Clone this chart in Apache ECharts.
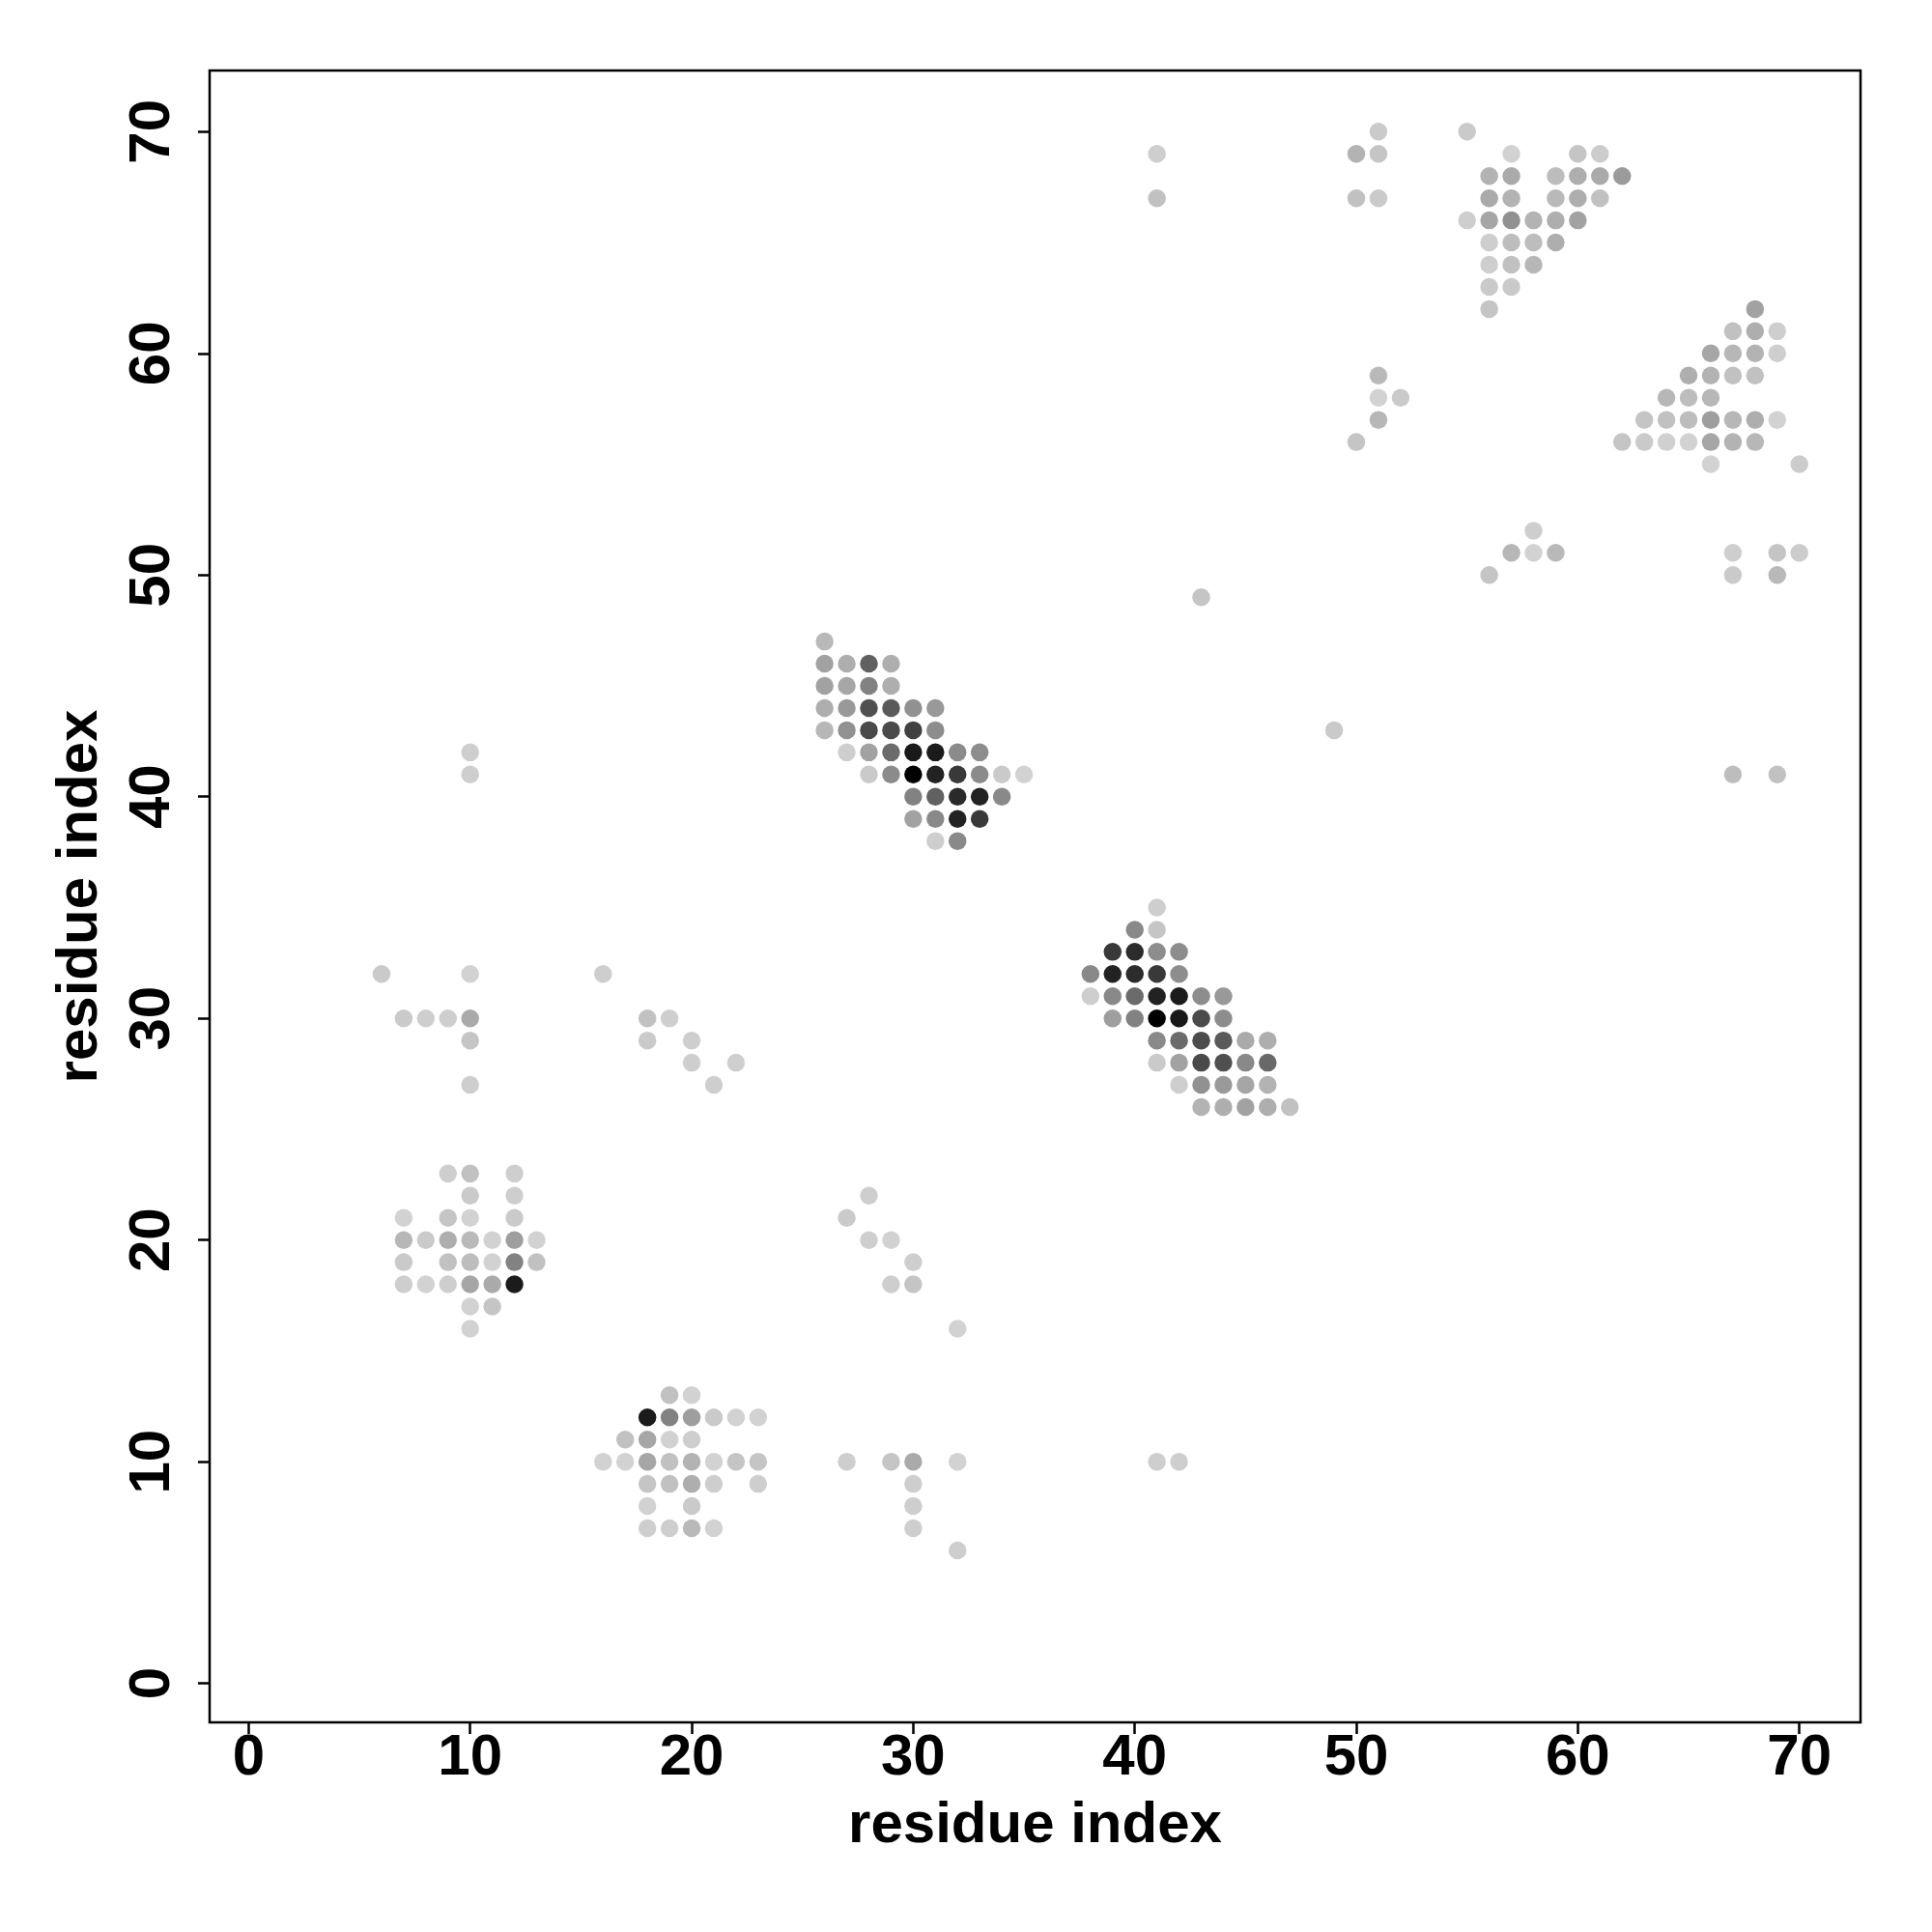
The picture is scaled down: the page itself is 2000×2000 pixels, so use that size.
<!DOCTYPE html>
<html>
<head>
<meta charset="utf-8">
<script src="https://cdn.jsdelivr.net/npm/echarts@6/dist/echarts.min.js"></script>
<style>html,body{margin:0;padding:0;background:#fff}#c{width:2000px;height:2000px}</style>
</head>
<body>
<div id="c"></div>
<script>
// Contact map: residue i (x), residue j (y), contact strength (0 = light grey, 1 = black)
const resX = [
51,55, 50,51,57,60,61, 56,57,59,60,61,62, 50,51,56,57,59,60,61, 55,56,57,58,59,60, 56,57,58,59, 56,57,58, 56,57, 56,
68, 67,68,69, 66,67,68,69, 51,65,66,67,68, 51,52,64,65,66, 51,63,64,65,66,67,68,69, 50,62,63,64,65,66,67,68, 66,70,
58, 57,58,59,67,69,70, 56,67,69, 41,41, 43,49, 67,69,
26, 26,27,28,29, 26,27,28,29, 26,27,28,29,30,31, 26,27,28,29,30,31, 27,28,29,30,31,32,33, 28,29,30,31,32,33,34,35,
30,31,32,33,34, 30,31,32,33, 31,32, 10,10,
41, 40,41, 39,40,41,42, 38,39,40,41,42, 38,39,40,41,42,43,44, 39,40,41,42,43,44, 41,42,43,44,45,46, 41,42,43,44,45,46,
42,43,44,45,46, 43,44,45,46,47,
6,10,16, 7,8,9,10,18,19, 10,18,20, 20,22, 10,21,
9,10,12, 10,12, 7,9,10,12, 7,8,9,10,11,12,13, 7,9,10,11,12,13, 7,8,9,10,11,12, 10,11, 10,
28,27,28,29,30,29,30,32,
19,20, 18,19,20,21,22,23, 17,18,19,20, 16,17,18,19,20,21,22,23, 18,19,20,21,23, 18,20, 18,19,20,21,
27,29,30,32, 30,30,30, 32, 41,42
];
const resY = [
70,70, 69,69,69,69,69, 68,68,68,68,68,68, 67,67,67,67,67,67,67, 66,66,66,66,66,66, 65,65,65,65, 64,64,64, 63,63, 62,
62, 61,61,61, 60,60,60,60, 59,59,59,59,59, 58,58,58,58,58, 57,57,57,57,57,57,57,57, 56,56,56,56,56,56,56,56, 55,55,
52, 51,51,51,51,51,51, 50,50,50, 69,67, 49,43, 41,41,
47, 46,46,46,46, 45,45,45,45, 44,44,44,44,44,44, 43,43,43,43,43,43, 42,42,42,42,42,42,42, 41,41,41,41,41,41,41,41,
40,40,40,40,40, 39,39,39,39, 38,38, 42,41,
35, 34,34, 33,33,33,33, 32,32,32,32,32, 31,31,31,31,31,31,31, 30,30,30,30,30,30, 29,29,29,29,29,29, 28,28,28,28,28,28,
27,27,27,27,27, 26,26,26,26,26,
32,32,32, 30,30,30,30,30,30, 29,29,29, 28,28, 27,27,
23,23,23, 22,22, 21,21,21,21, 20,20,20,20,20,20,20, 19,19,19,19,19,19, 18,18,18,18,18,18, 17,17, 16,
22,21,20,20,19,18,18,16,
13,13, 12,12,12,12,12,12, 11,11,11,11, 10,10,10,10,10,10,10,10, 9,9,9,9,9, 8,8, 7,7,7,7,
10,10,10,10, 9,8,7, 6, 10,10
];
const strength = [
0.04,0.04, 0.15,0.06,0.00,0.06,0.03, 0.15,0.19,0.10,0.17,0.19,0.26, 0.08,0.04,0.19,0.15,0.12,0.17,0.08, 0.02,0.21,0.31,0.15,0.17,0.23, 0.02,0.10,0.10,0.17, 0.02,0.08,0.13, 0.04,0.04, 0.06,
0.23, 0.08,0.17,0.02, 0.21,0.13,0.15,0.02, 0.12,0.17,0.15,0.08,0.08, 0.00,0.04,0.13,0.10,0.13, 0.13,0.06,0.08,0.10,0.25,0.13,0.17,0.00, 0.06,0.06,0.04,0.01,0.00,0.21,0.15,0.13, 0.00,0.03,
0.02, 0.13,0.00,0.12,0.02,0.06,0.03, 0.06,0.04,0.12, 0.02,0.08, 0.06,0.04, 0.10,0.08,
0.12, 0.23,0.17,0.54,0.17, 0.23,0.21,0.38,0.17, 0.17,0.27,0.62,0.57,0.31,0.27, 0.13,0.31,0.65,0.65,0.69,0.33, 0.02,0.23,0.49,0.88,0.87,0.34,0.33, 0.04,0.34,1.00,0.84,0.73,0.34,0.04,0.00,
0.38,0.54,0.80,0.84,0.35, 0.23,0.35,0.84,0.73, 0.02,0.35, 0.02,0.02,
0.02, 0.35,0.06, 0.73,0.79,0.33,0.33, 0.35,0.84,0.79,0.73,0.33, 0.02,0.35,0.49,0.84,0.87,0.33,0.27, 0.25,0.38,1.00,0.88,0.65,0.33, 0.35,0.49,0.64,0.57,0.19,0.17, 0.04,0.23,0.65,0.62,0.35,0.50,
0.02,0.31,0.27,0.21,0.15, 0.15,0.17,0.23,0.17,0.08,
0.04,0.00,0.02, 0.04,0.02,0.02,0.19,0.08,0.02, 0.06,0.04,0.02, 0.02,0.02, 0.02,0.02,
0.02,0.08,0.02, 0.04,0.02, 0.00,0.06,0.00,0.04, 0.13,0.04,0.17,0.12,0.00,0.25,0.00, 0.04,0.08,0.10,0.00,0.38,0.08, 0.02,0.00,0.02,0.21,0.19,0.87, 0.00,0.06, 0.00,
0.02,0.04,0.02,0.00,0.02,0.02,0.06,0.00,
0.08,0.00, 0.87,0.38,0.25,0.04,0.00,0.00, 0.08,0.21,0.00,0.02, 0.00,0.00,0.21,0.08,0.15,0.00,0.06,0.06, 0.06,0.08,0.17,0.02,0.02, 0.00,0.04, 0.02,0.02,0.12,0.00,
0.02,0.06,0.19,0.00, 0.02,0.02,0.02, 0.02, 0.02,0.02
];
const tickValues = [0, 10, 20, 30, 40, 50, 60, 70];
const axisTitle = 'residue index';

const points = resX.map((x, i) => [x, resY[i], strength[i]]);

const fontFam = '"Liberation Sans", Arial, sans-serif';
function axisCfg(isY) {
  return {
    type: 'value',
    min: -1.76,
    max: 72.76,
    name: axisTitle,
    nameLocation: 'middle',
    nameGap: isY ? 104 : 77,
    nameRotate: isY ? 90 : 0,
    nameTextStyle: { fontFamily: fontFam, fontWeight: 'bold', fontSize: 60, color: '#000' },
    axisLine: { show: false, onZero: false },
    axisTick: { show: true, length: 12, inside: false, customValues: tickValues, lineStyle: { color: '#000', width: 2.5 } },
    axisLabel: {
      customValues: tickValues,
      rotate: isY ? 90 : 0,
      margin: isY ? 29 : 7,
      fontFamily: fontFam, fontWeight: 'bold', fontSize: 60, color: '#000'
    },
    splitLine: { show: false }
  };
}

const chart = echarts.init(document.getElementById('c'), null, { renderer: 'canvas' });
chart.setOption({
  backgroundColor: '#fff',
  animation: false,
  grid: { left: 217, top: 73, width: 1709, height: 1710, show: true, borderColor: '#000', borderWidth: 2.5, backgroundColor: 'transparent' },
  xAxis: axisCfg(false),
  yAxis: axisCfg(true),
  visualMap: {
    show: false, type: 'continuous', dimension: 2, min: 0, max: 1,
    inRange: { color: ['#d2d2d2', '#000000'] }
  },
  series: [{
    type: 'scatter',
    data: points,
    symbol: 'circle',
    symbolSize: 18.5,
    itemStyle: { opacity: 1 }
  }]
});
</script>
</body>
</html>
